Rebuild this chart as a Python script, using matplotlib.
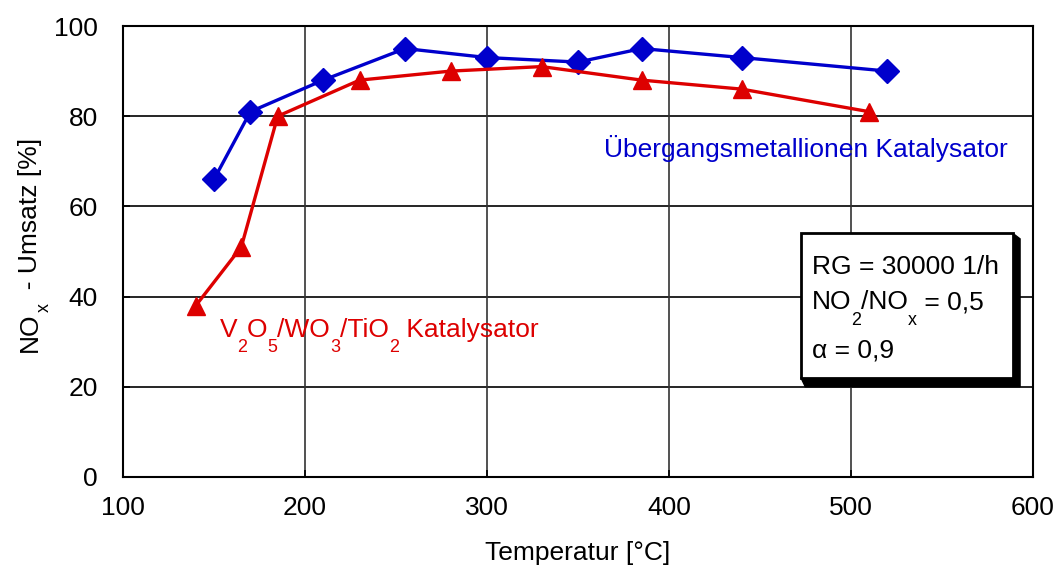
import matplotlib.pyplot as plt
from matplotlib.patches import Rectangle, Polygon
from matplotlib.transforms import offset_copy

plt.rcParams['font.family'] = ['Liberation Sans', 'DejaVu Sans']

# Umsatzdaten
temp_uebergang = [150, 170, 210, 255, 300, 350, 385, 440, 520]
umsatz_uebergang = [66, 81, 88, 95, 93, 92, 95, 93, 90]

temp_vwti = [140, 165, 185, 230, 280, 330, 385, 440, 510]
umsatz_vwti = [38, 51, 80, 88, 90, 91, 88, 86, 81]

x_ticks = [100, 200, 300, 400, 500, 600]
y_ticks = [0, 20, 40, 60, 80, 100]

blau = '#0000cc'
rot = '#dd0000'
fs = 19

fig = plt.figure(figsize=(10.58, 5.70), dpi=100)
ax = fig.add_axes([123 / 1058, 93 / 570, 910 / 1058, 451 / 570])
renderer = fig.canvas.get_renderer()


def text_mit_index(x, y, teile, transform, rotation=0, tiefe=15.5, **kw):
    # Text stueckweise setzen, Indizes kleiner und deutlich tiefer
    pos = 0.0
    for s, index in teile:
        size = fs * 0.68 if index else fs
        drop = tiefe if index else 0
        if rotation == 90:
            tr = offset_copy(transform, fig=fig, x=drop, y=pos, units='dots')
        else:
            tr = offset_copy(transform, fig=fig, x=pos, y=-drop, units='dots')
        t = ax.text(x, y, s, transform=tr, fontsize=size, rotation=rotation,
                    rotation_mode='anchor', ha='left', va='baseline', **kw)
        bb = t.get_window_extent(renderer)
        pos += bb.height if rotation == 90 else bb.width


ax.set_xlim(100, 600)
ax.set_ylim(0, 100)
ax.set_xticks(x_ticks)
ax.set_yticks(y_ticks)
ax.tick_params(direction='in', length=5, width=1.2, labelsize=fs)
ax.tick_params(axis='x', pad=14)
ax.tick_params(axis='y', pad=18)

# Gitter
for y in y_ticks[1:-1]:
    ax.axhline(y, color='black', lw=1.2, zorder=1)
for x in x_ticks[1:-1]:
    ax.axvline(x, color='#333333', lw=1.2, zorder=1)

for s in ax.spines.values():
    s.set_linewidth(1.5)

ax.plot(temp_uebergang, umsatz_uebergang, color=blau, lw=2.4, marker='D',
        markersize=12, zorder=3)
ax.plot(temp_vwti, umsatz_vwti, color=rot, lw=2.4, marker='^',
        markersize=13, zorder=3)

ax.text(364.5, 71, 'Übergangsmetallionen Katalysator', color=blau,
        fontsize=fs, va='baseline', ha='left')
text_mit_index(153, 31.1, [('V', 0), ('2', 1), ('O', 0), ('5', 1), ('/WO', 0),
                           ('3', 1), ('/TiO', 0), ('2', 1), (' Katalysator', 0)],
               ax.transData, color=rot)

# Kasten mit Versuchsbedingungen
bx0, bx1, by0, by1 = 472.5, 589, 22, 54
dx, dy = 3.9, 2.0
bev = 1.2
schatten = Polygon([(bx1, by1), (bx1 + dx, by1 - bev), (bx1 + dx, by0 - dy),
                    (bx0 + 2 * bev, by0 - dy), (bx0, by0)],
                   closed=True, facecolor='black', edgecolor='black', zorder=4)
ax.add_patch(schatten)
ax.add_patch(Rectangle((bx0, by0), bx1 - bx0, by1 - by0, facecolor='white',
                       edgecolor='black', lw=2, zorder=5))
ax.text(478.5, 45.0, 'RG = 30000 1/h', fontsize=fs, zorder=6)
text_mit_index(478.5, 37.25, [('NO', 0), ('2', 1), ('/NO', 0), ('x', 1),
                              (' = 0,5', 0)], ax.transData, zorder=6)
ax.text(478.5, 26.6, 'α = 0,9', fontsize=fs, zorder=6)

ax.set_xlabel('Temperatur [°C]', fontsize=fs, labelpad=15)
text_mit_index(37 / 1058, 218 / 570, [('NO', 0), ('x', 1), ('  - Umsatz [%]', 0)],
               fig.transFigure, rotation=90, tiefe=12)

fig.savefig('out.png', dpi=100)
